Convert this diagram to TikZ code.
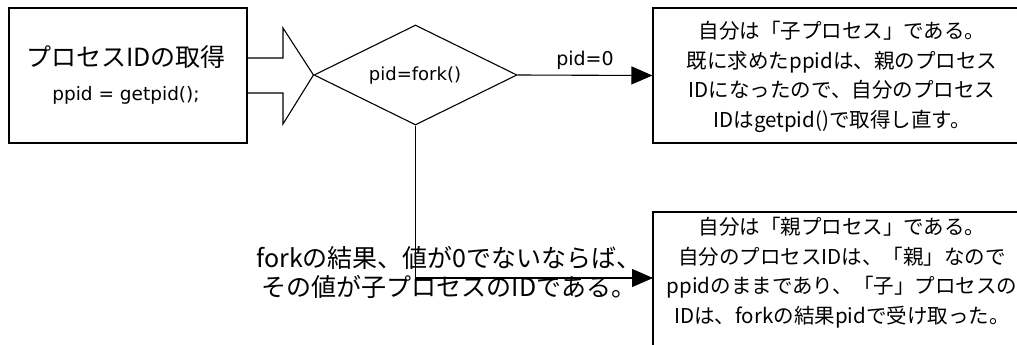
\documentclass[tikz,border=0pt]{standalone}
\usepackage{fontspec}
\setmainfont{Noto Sans CJK JP}
\newfontfamily\latinfont{DejaVu Sans}
\usetikzlibrary{shapes.geometric,arrows.meta}
\tikzset{
  box/.style={draw, line width=1.1pt, rectangle, inner sep=0pt},
  txt/.style={align=center, inner sep=0pt, font=\fontsize{20.5}{29.5}\selectfont},
  conn/.style={line width=1.1pt, -{Triangle[length=21pt,width=18pt]}},
}
\begin{document}
\begin{tikzpicture}[x=1pt,y=-1pt]
\useasboundingbox (0,0) rectangle (1017,345);
\path[clip] (0,0) rectangle (1017,345);
% left box
\node[box, minimum width=238pt, minimum height=135pt] (getpid) at (128,75.5) {};
\node[inner sep=0pt, font=\fontsize{25}{25}\selectfont] (gtitle) at (126,57) {プロセスIDの取得};
\node[inner sep=0pt, font=\latinfont\fontsize{18.5}{18.5}\selectfont] (gcode) at (126,95) {ppid = getpid();};
% diamond
\node[draw, line width=1.1pt, diamond, inner sep=0pt, minimum width=203pt, minimum height=100pt] (fork) at (415.5,75) {};
\node[inner sep=0pt, font=\latinfont\fontsize{18}{18}\selectfont] (forktext) at (415,76) {pid=fork()};
% big arrow
\draw[line width=1.1pt, line join=miter]
  (getpid.east |- 0,58) -- (283,58) -- (283,28) -- (fork.west) -- (283,124) -- (283,93) -- (getpid.east |- 0,93);
% child box
\node[box, minimum width=376pt, minimum height=135pt] (child) at (841,75.5) {};
\node[txt] (childtext) at (842,77) {自分は「子プロセス」である。\\既に求めたppidは、親のプロセス\\IDになったので、自分のプロセス\\IDはgetpid()で取得し直す。};
% parent box
\node[box, minimum width=376pt, minimum height=160pt] (parent) at (841,292) {};
\node[txt] (parenttext) at (842,272.5) {自分は「親プロセス」である。\\自分のプロセスIDは、「親」なので\\ppidのままであり、「子」プロセスの\\IDは、forkの結果pidで受け取った。};
% connectors
\draw[conn] (fork.east) -- (child.west) node[midway, above=5pt, inner sep=0pt, font=\latinfont\fontsize{19}{19}\selectfont] (zero) {pid=0};
\coordinate (pin) at (653,278);
\draw[conn] (fork.south) |- (pin);
\node[txt, font=\fontsize{25}{29}\selectfont] (note) at (449,272.5) {forkの結果、値が0でないならば、\\その値が子プロセスのIDである。};
\end{tikzpicture}
\end{document}
